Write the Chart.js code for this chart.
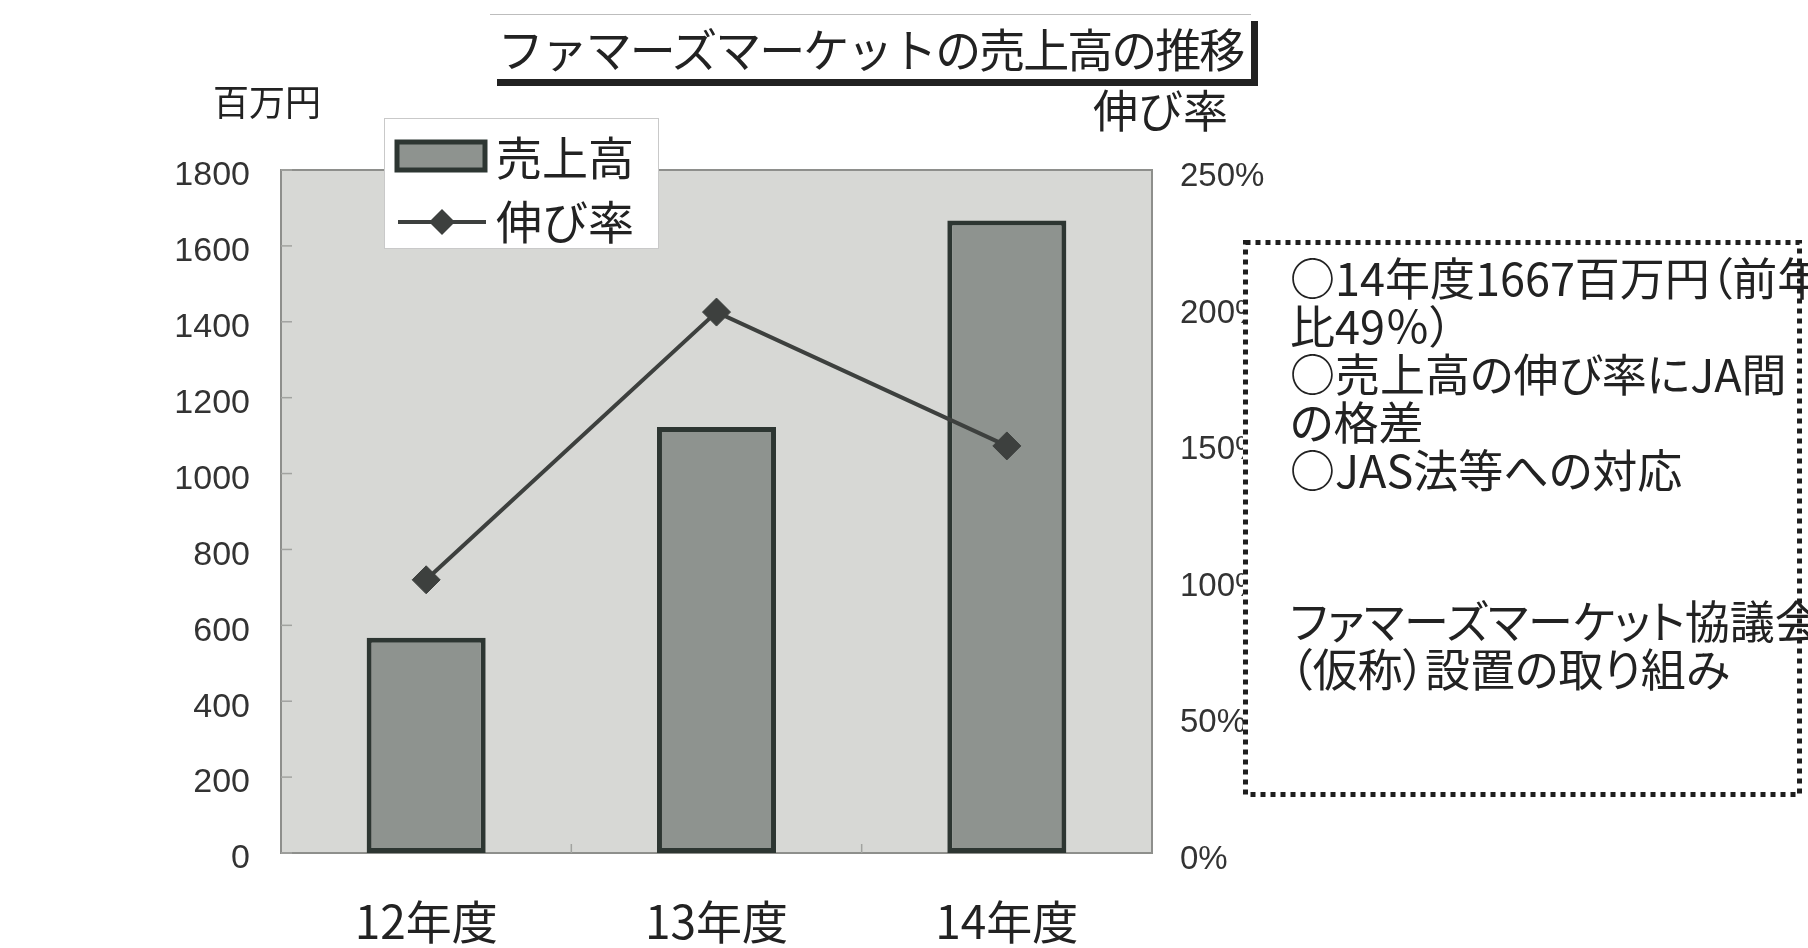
<!DOCTYPE html>
<html lang="ja">
<head>
<meta charset="utf-8">
<title>ファマーズマーケットの売上高の推移</title>
<script src="https://cdn.jsdelivr.net/npm/chart.js@4/dist/chart.umd.min.js"></script>
<style>
  html, body { margin: 0; padding: 0; background: #fff; overflow: hidden; }
  #wrap { position: relative; width: 1808px; height: 948px; font-family: "Noto Sans CJK JP", "Noto Sans", sans-serif; color: #222; }
  #chart { position: absolute; left: 0; top: 0; }
  .label { position: absolute; white-space: nowrap; line-height: 1; }
  #title-box {
    position: absolute; left: 490px; top: 14px; width: 761px; height: 64px;
    background: #fff; border-top: 1px solid #bdbdbd;
    box-shadow: 7px 7px 0 #222;
    font-size: 46px; letter-spacing: -2px; white-space: nowrap;
    text-align: center; line-height: 64px;
  }
  #note {
    position: absolute; left: 1243px; top: 240px; width: 559px; height: 557px;
    background: #fff;
  }
  #note svg { position: absolute; left: 0; top: 0; }
  #note .lines {
    position: absolute; left: 47px; font-size: 45px; line-height: 48px;
    font-feature-settings: "palt"; white-space: pre;
  }
</style>
</head>
<body>
<div id="wrap">
  <canvas id="chart" width="1808" height="948"></canvas>
  <div id="title-box">ファマーズマーケットの売上高の推移</div>
  <div class="label" style="left:213px; top:82px; font-size:36px;">百万円</div>
  <div class="label" style="left:1093px; top:86px; font-size:45px;">伸び率</div>
  <div id="note">
    <svg width="559" height="557">
      <rect x="2.5" y="2.5" width="554" height="552" fill="none" stroke="#1e1e1e" stroke-width="5" stroke-dasharray="5 5"/>
    </svg>
    <div class="lines" style="top:13px;">○14年度1667百万円（前年
比49％）
○売上高の伸び率にJA間
の格差
○JAS法等への対応</div>
    <div class="lines" style="top:356px;">ファマーズマーケット協議会
（仮称）設置の取り組み</div>
  </div>
</div>
<script>
  // fiscal years and values
  const years = ["12年度", "13年度", "14年度"];
  const sales = [567, 1123, 1667];      // 百万円
  const growthRate = [100, 198, 149];   // %

  const barFill = "#8e938f";
  const barEdge = "#2d3632";
  const lineColor = "#3d403e";

  // grey plot area with its frame and the short inner tick marks
  const plotFrame = {
    id: "plotFrame",
    beforeDatasetsDraw(chart) {
      const { ctx, chartArea: a, scales } = chart;
      ctx.save();
      ctx.fillStyle = "#d7d8d5";
      ctx.fillRect(a.left, a.top, a.width, a.height);
      ctx.strokeStyle = "#8e8f8c";
      ctx.lineWidth = 2;
      ctx.strokeRect(a.left, a.top, a.width, a.height);

      ctx.strokeStyle = "#a2a3a0";
      ctx.lineWidth = 1.5;
      scales.y.ticks.forEach((t) => {
        const py = scales.y.getPixelForValue(t.value);
        ctx.beginPath();
        ctx.moveTo(a.left, py);
        ctx.lineTo(a.left + 11, py);
        ctx.stroke();
      });
      for (let i = 1; i < years.length; i++) {
        const px = (scales.x.getPixelForValue(i - 1) + scales.x.getPixelForValue(i)) / 2;
        ctx.beginPath();
        ctx.moveTo(px, a.bottom);
        ctx.lineTo(px, a.bottom - 9);
        ctx.stroke();
      }
      ctx.restore();
    }
  };

  // legend box drawn over the top-left of the plot
  const legendBox = {
    id: "legendBox",
    afterDraw(chart) {
      const { ctx } = chart;
      const barSet = chart.data.datasets.find((d) => d.type !== "line");
      const lineSet = chart.data.datasets.find((d) => d.type === "line");
      const bx = 384, by = 118, bw = 274, bh = 130;
      ctx.save();
      ctx.fillStyle = "#fff";
      ctx.fillRect(bx, by, bw, bh);
      ctx.strokeStyle = "#c9c9c9";
      ctx.lineWidth = 1;
      ctx.strokeRect(bx + 0.5, by + 0.5, bw, bh);

      ctx.font = '46px "Noto Sans CJK JP"';
      ctx.textBaseline = "middle";

      // bar entry
      ctx.fillStyle = barSet.backgroundColor;
      ctx.fillRect(397, 142, 88, 28);
      ctx.strokeStyle = barSet.borderColor;
      ctx.lineWidth = 5;
      ctx.strokeRect(397, 142, 88, 28);
      ctx.fillStyle = "#222";
      ctx.fillText(barSet.label, 496, 158);

      // line entry
      ctx.strokeStyle = lineSet.borderColor;
      ctx.lineWidth = 4;
      ctx.beginPath();
      ctx.moveTo(398, 222);
      ctx.lineTo(486, 222);
      ctx.stroke();
      ctx.fillStyle = lineSet.pointBackgroundColor;
      ctx.beginPath();
      ctx.moveTo(442, 209);
      ctx.lineTo(455, 222);
      ctx.lineTo(442, 235);
      ctx.lineTo(429, 222);
      ctx.closePath();
      ctx.fill();
      ctx.fillStyle = "#222";
      ctx.fillText(lineSet.label, 496, 222);
      ctx.restore();
    }
  };

  new Chart(document.getElementById("chart"), {
    type: "bar",
    data: {
      labels: years,
      datasets: [
        {
          type: "bar",
          label: "売上高",
          data: sales,
          yAxisID: "y",
          backgroundColor: barFill,
          borderColor: barEdge,
          borderWidth: 5,
          borderSkipped: false,
          barPercentage: 0.41,
          categoryPercentage: 1,
          order: 2
        },
        {
          type: "line",
          label: "伸び率",
          data: growthRate,
          yAxisID: "y1",
          borderColor: lineColor,
          borderWidth: 4,
          pointStyle: "rectRot",
          pointRadius: 14,
          pointBackgroundColor: lineColor,
          pointBorderColor: lineColor,
          pointBorderWidth: 1,
          tension: 0,
          order: 1
        }
      ]
    },
    options: {
      responsive: false,
      animation: false,
      events: [],
      layout: { padding: { top: 170, left: 0, right: 0, bottom: 0 } },
      plugins: { legend: { display: false }, tooltip: { enabled: false } },
      scales: {
        x: {
          grid: { display: false, drawTicks: false },
          border: { display: false },
          ticks: { padding: 41, color: "#222", font: { family: "Noto Sans CJK JP", size: 46 } },
          afterFit(scale) { scale.height = 95; }
        },
        y: {
          position: "left",
          min: 0,
          max: 1800,
          grid: { display: false, drawTicks: false },
          border: { display: false },
          ticks: {
            stepSize: 200, padding: 31, labelOffset: 6, color: "#333",
            font: { family: "Liberation Sans", size: 34 },
            callback: (v) => String(v)
          },
          afterFit(scale) { scale.width = 281; }
        },
        y1: {
          position: "right",
          min: 0,
          max: 250,
          grid: { display: false, drawTicks: false },
          border: { display: false },
          ticks: {
            stepSize: 50, padding: 28, labelOffset: 7, color: "#333",
            font: { family: "Liberation Sans", size: 33 },
            callback: (v) => v + "%"
          },
          afterFit(scale) { scale.width = 656; }
        }
      }
    },
    plugins: [plotFrame, legendBox]
  });
</script>
</body>
</html>
